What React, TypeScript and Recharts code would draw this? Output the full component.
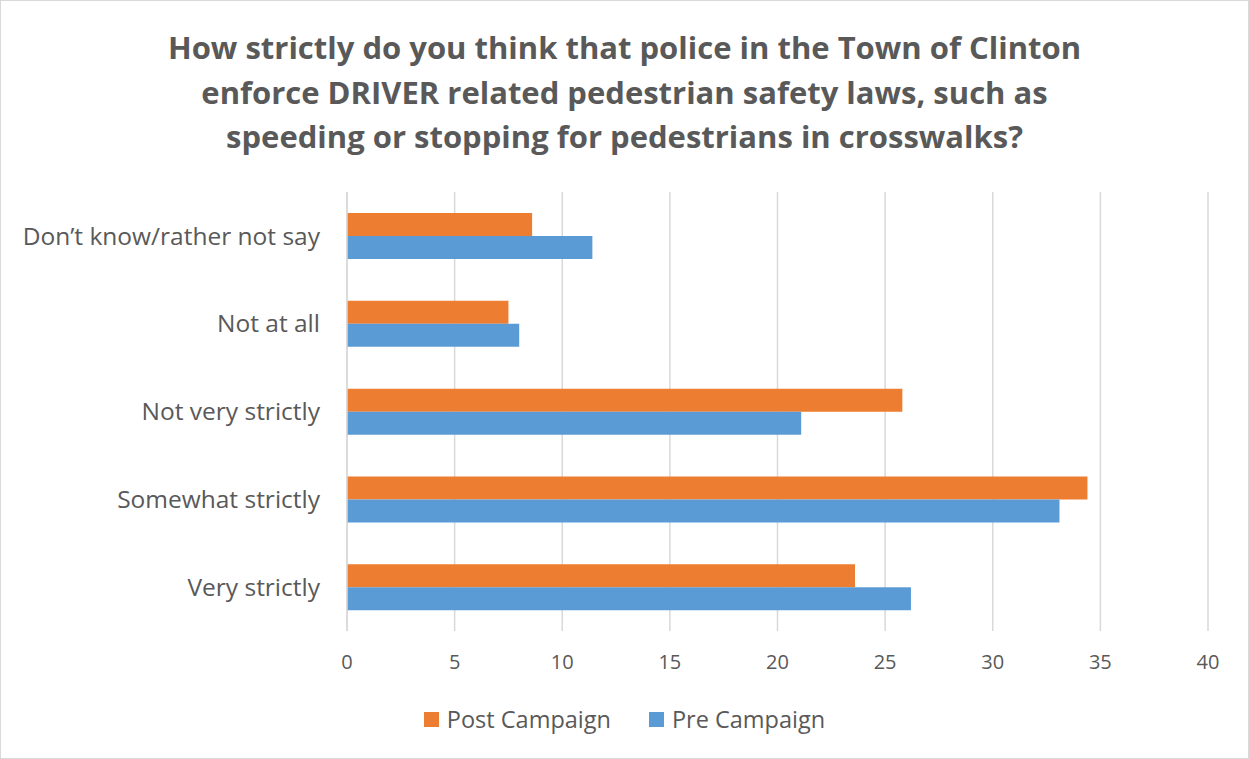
import { BarChart, Bar, XAxis, YAxis, CartesianGrid, Legend } from 'recharts';

const categories = [
  'Don\u2019t know/rather not say',
  'Not at all',
  'Not very strictly',
  'Somewhat strictly',
  'Very strictly',
];
const postCampaign = [8.6, 7.5, 25.8, 34.4, 23.6];
const preCampaign = [11.4, 8.0, 21.1, 33.1, 26.2];
const xTicks = [0, 5, 10, 15, 20, 25, 30, 35, 40];

const title = [
  'How strictly do you think that police in the Town of Clinton',
  'enforce DRIVER related pedestrian safety laws, such as',
  'speeding or stopping for pedestrians in crosswalks?',
];

const ORANGE = '#ED7D31';
const BLUE = '#5B9BD5';
const TEXT = '#595959';
const FONT = '"Open Sans", sans-serif';

const data = categories.map((c, i) => ({ name: c, post: postCampaign[i], pre: preCampaign[i] }));

function LegendContent() {
  const items = [
    { label: 'Post Campaign', color: ORANGE },
    { label: 'Pre Campaign', color: BLUE },
  ];
  return (
    <div style={{ display: 'flex', justifyContent: 'center', gap: 38, fontFamily: FONT, fontSize: 23.5, color: TEXT }}>
      {items.map((it) => (
        <div key={it.label} style={{ display: 'flex', alignItems: 'center', gap: 8 }}>
          <span style={{ width: 15, height: 15, background: it.color, display: 'inline-block' }} />
          <span>{it.label}</span>
        </div>
      ))}
    </div>
  );
}

export default function App() {
  return (
    <div
      style={{
        position: 'absolute',
        left: 0,
        top: 0,
        width: 1247,
        height: 757,
        border: '1px solid #d9d9d9',
        background: '#fff',
      }}
    >
      <div
        style={{
          position: 'absolute',
          top: 24,
          left: 0,
          width: 1247,
          textAlign: 'center',
          fontFamily: FONT,
          fontWeight: 700,
          fontSize: 31,
          lineHeight: '44.5px',
          color: TEXT,
        }}
      >
        {title.map((t) => (
          <div key={t}>{t}</div>
        ))}
      </div>
      <BarChart
        width={1247}
        height={757}
        data={data}
        layout="vertical"
        barGap={0}
        barCategoryGap="24%"
        margin={{ top: 191, right: 40, bottom: 57, left: 0 }}
        style={{ position: 'absolute', top: 0, left: 0 }}
      >
        <CartesianGrid horizontal={false} stroke="#d9d9d9" strokeWidth={1.5} />
        <XAxis
          type="number"
          domain={[0, 40]}
          ticks={xTicks}
          axisLine={false}
          tickLine={false}
          tickMargin={18}
          height={40}
          tick={{ fontSize: 20, fill: TEXT, fontFamily: FONT }}
        />
        <YAxis
          type="category"
          dataKey="name"
          width={346}
          axisLine={{ stroke: '#d9d9d9', strokeWidth: 1.5 }}
          tickLine={false}
          tickMargin={21}
          tick={{ fontSize: 24.5, fill: TEXT, fontFamily: FONT }}
        />
        <Legend
          content={<LegendContent />}
          verticalAlign="bottom"
          height={30}
          wrapperStyle={{ top: 702, left: 0, width: 1247 }}
        />
        <Bar dataKey="post" name="Post Campaign" fill={ORANGE} isAnimationActive={false} />
        <Bar dataKey="pre" name="Pre Campaign" fill={BLUE} isAnimationActive={false} />
      </BarChart>
    </div>
  );
}
